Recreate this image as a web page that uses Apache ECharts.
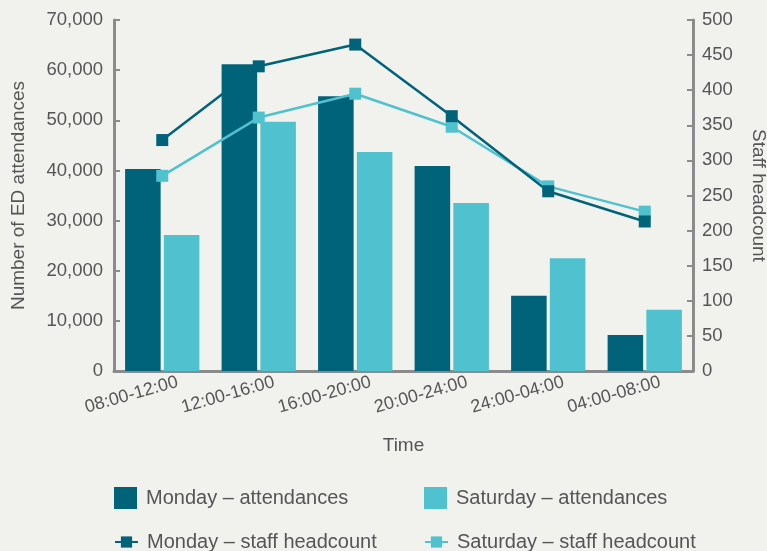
<!DOCTYPE html>
<html>
<head>
<meta charset="utf-8">
<script src="https://cdn.jsdelivr.net/npm/echarts@6/dist/echarts.min.js"></script>
<style>
  html, body { margin: 0; padding: 0; background: #f1f2ed; }
  #chart { width: 767px; height: 551px; }
</style>
</head>
<body>
<div id="chart"></div>
<script>
// time bands on the x axis
const timeBands = ["08:00-12:00", "12:00-16:00", "16:00-20:00", "20:00-24:00", "24:00-04:00", "04:00-08:00"];

// ED attendances (left axis)
const mondayAttendances = [40300, 61200, 54800, 40900, 15000, 7200];
const saturdayAttendances = [27100, 49700, 43700, 33500, 22500, 12200];

// staff headcount (right axis)
const mondayStaff = [329, 434, 465, 363, 256, 213];
const saturdayStaff = [278, 361, 395, 348, 263, 227];

const darkTeal = "#00637a";
const lightTeal = "#50c1cf";
const textColor = "#555557";
const axisGray = "#8b8b8d";
const fontFamily = "'Liberation Sans', Arial, sans-serif";

const chart = echarts.init(document.getElementById("chart"));

function legendAt(name, left, top, isLine) {
    return {
        data: [name],
        left: left,
        top: top,
        padding: 0,
        icon: isLine ? undefined : "rect",
        itemWidth: 23,
        itemHeight: isLine ? 14 : 22,
        selectedMode: false,
        textStyle: { color: textColor, fontSize: 20, fontFamily: fontFamily, padding: [0, 0, 0, 4] }
    };
}

const option = {
    backgroundColor: "#f1f2ed",
    animation: false,
    textStyle: { fontFamily: fontFamily },
    grid: { left: 114, right: 74, top: 20, bottom: 180, outerBoundsMode: "none" },
    legend: [
        legendAt("Monday – attendances", 114, 487, false),
        legendAt("Saturday – attendances", 424, 487, false),
        legendAt("Monday – staff headcount", 114, 532, true),
        legendAt("Saturday – staff headcount", 424, 532, true)
    ],
    xAxis: {
        type: "category",
        data: timeBands,
        name: "Time",
        nameLocation: "middle",
        nameGap: 65,
        nameTextStyle: { color: textColor, fontSize: 19 },
        axisLine: { lineStyle: { color: axisGray, width: 3 } },
        axisTick: { show: false },
        axisLabel: {
            color: textColor,
            fontSize: 18,
            rotate: 16,
            margin: 15,
            padding: [0, -16, 0, 0]
        }
    },
    yAxis: [
        {
            type: "value",
            min: 0,
            max: 70000,
            interval: 10000,
            name: "Number of ED attendances",
            nameLocation: "middle",
            nameGap: 86,
            nameTextStyle: { color: textColor, fontSize: 19 },
            axisLine: { show: true, lineStyle: { color: axisGray, width: 3 } },
            axisTick: { show: true, inside: true, length: 6, lineStyle: { color: axisGray, width: 2 } },
            splitLine: { show: false },
            axisLabel: {
                color: textColor,
                fontSize: 18.5,
                margin: 11,
                formatter: function (v) { return v.toLocaleString("en-US"); }
            }
        },
        {
            type: "value",
            min: 0,
            max: 500,
            interval: 50,
            name: "Staff headcount",
            nameLocation: "middle",
            nameRotate: -90,
            nameGap: 56,
            nameTextStyle: { color: textColor, fontSize: 19 },
            axisLine: { show: true, lineStyle: { color: axisGray, width: 3 } },
            axisTick: { show: true, inside: true, length: 6, lineStyle: { color: axisGray, width: 2 } },
            splitLine: { show: false },
            axisLabel: { color: textColor, fontSize: 18.5, margin: 9 }
        }
    ],
    series: [
        {
            name: "Monday – attendances",
            type: "bar",
            data: mondayAttendances,
            barGap: "9%",
            barCategoryGap: "23%",
            itemStyle: { color: darkTeal }
        },
        {
            name: "Saturday – attendances",
            type: "bar",
            data: saturdayAttendances,
            itemStyle: { color: lightTeal }
        },
        {
            name: "Saturday – staff headcount",
            type: "line",
            yAxisIndex: 1,
            data: saturdayStaff,
            symbol: "rect",
            symbolSize: 12,
            lineStyle: { color: lightTeal, width: 2.5 },
            itemStyle: { color: lightTeal }
        },
        {
            name: "Monday – staff headcount",
            type: "line",
            yAxisIndex: 1,
            data: mondayStaff,
            symbol: "rect",
            symbolSize: 12,
            lineStyle: { color: darkTeal, width: 2.5 },
            itemStyle: { color: darkTeal }
        }
    ]
};

chart.setOption(option);
</script>
</body>
</html>
